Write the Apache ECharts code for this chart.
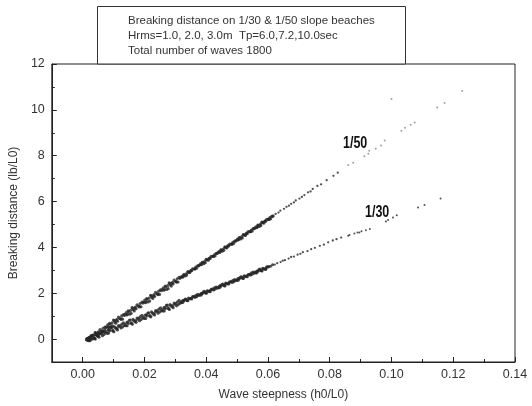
<!DOCTYPE html>
<html>
<head>
<meta charset="utf-8">
<script src="https://cdn.jsdelivr.net/npm/echarts@6/dist/echarts.min.js"></script>
<style>
  html, body { margin: 0; padding: 0; background: #fff; }
  #chart { width: 532px; height: 406px; }
</style>
</head>
<body>
<div id="chart"></div>
<script>
// Wave steepness h0/L0 and breaking distance lb/L0, 1/50 slope beach
const steep50 = [
  0.0012, 0.0015, 0.0016, 0.0018,
  0.0021, 0.0025, 0.0029, 0.0037, 0.0040, 0.0044, 0.0051, 0.0053, 0.0060, 0.0066, 0.0069, 0.0077,
  0.0081, 0.0085, 0.0089, 0.0097, 0.0100, 0.0104, 0.0111, 0.0113, 0.0120, 0.0126, 0.0129, 0.0137,
  0.0141, 0.0145, 0.0149, 0.0157, 0.0160, 0.0164, 0.0171, 0.0173, 0.0180, 0.0186, 0.0189, 0.0197,
  0.0201, 0.0205, 0.0209, 0.0217, 0.0220, 0.0224, 0.0231, 0.0233, 0.0240, 0.0246, 0.0249, 0.0257,
  0.0261, 0.0265, 0.0269, 0.0277, 0.0280, 0.0284, 0.0291, 0.0293, 0.0300, 0.0306, 0.0309, 0.0317,
  0.0321, 0.0325, 0.0329, 0.0337, 0.0340, 0.0344, 0.0351, 0.0353, 0.0360, 0.0366, 0.0369, 0.0377,
  0.0381, 0.0385, 0.0389, 0.0397, 0.0400, 0.0404, 0.0411, 0.0413, 0.0420, 0.0426, 0.0429, 0.0437,
  0.0441, 0.0445, 0.0449, 0.0457, 0.0460, 0.0464, 0.0471, 0.0473, 0.0480, 0.0486, 0.0489, 0.0497,
  0.0501, 0.0505, 0.0509, 0.0517, 0.0520, 0.0524, 0.0531, 0.0533, 0.0540, 0.0546, 0.0549, 0.0557,
  0.0561, 0.0565, 0.0569, 0.0577, 0.0580, 0.0584, 0.0591, 0.0593, 0.0600, 0.0606, 0.0609, 0.0617,
  0.0023, 0.0027, 0.0032, 0.0035, 0.0042, 0.0047, 0.0049, 0.0056, 0.0063, 0.0064, 0.0072, 0.0075,
  0.0083, 0.0087, 0.0092, 0.0095, 0.0102, 0.0107, 0.0109, 0.0116, 0.0123, 0.0124, 0.0132, 0.0135,
  0.0143, 0.0147, 0.0152, 0.0155, 0.0162, 0.0167, 0.0169, 0.0176, 0.0183, 0.0184, 0.0192, 0.0195,
  0.0203, 0.0207, 0.0212, 0.0215, 0.0222, 0.0227, 0.0229, 0.0236, 0.0243, 0.0244, 0.0252, 0.0255,
  0.0263, 0.0267, 0.0272, 0.0275, 0.0282, 0.0287, 0.0289, 0.0296, 0.0303, 0.0304, 0.0312, 0.0315,
  0.0323, 0.0327, 0.0332, 0.0335, 0.0342, 0.0347, 0.0349, 0.0356, 0.0363, 0.0364, 0.0372, 0.0375,
  0.0383, 0.0387, 0.0392, 0.0395, 0.0402, 0.0407, 0.0409, 0.0416, 0.0423, 0.0424, 0.0432, 0.0435,
  0.0443, 0.0447, 0.0452, 0.0455, 0.0462, 0.0467, 0.0469, 0.0476, 0.0483, 0.0484, 0.0492, 0.0495,
  0.0503, 0.0507, 0.0512, 0.0515, 0.0522, 0.0527, 0.0529, 0.0536, 0.0543, 0.0544, 0.0552, 0.0555,
  0.0563, 0.0567, 0.0572, 0.0575, 0.0582, 0.0587, 0.0589, 0.0596, 0.0603, 0.0604, 0.0612, 0.0615,
  0.0625, 0.0634, 0.0640, 0.0652, 0.0660, 0.0668, 0.0675, 0.0684, 0.0690, 0.0702, 0.0710, 0.0718,
  0.0730, 0.0738, 0.0745, 0.0760, 0.0772, 0.0790, 0.0812, 0.0826, 0.0860, 0.0876, 0.0912, 0.0925,
  0.0928, 0.0949, 0.0966, 0.0978, 0.1000, 0.1032, 0.1044, 0.1062, 0.1075, 0.1148, 0.1172, 0.1229
];
const dist50 = [
  -0.03, 0.02, -0.06, 0.05,
  0.08, -0.01, 0.11, 0.04, 0.29, 0.20, 0.32, 0.24, 0.36, 0.47, 0.33, 0.54,
  0.62, 0.54, 0.65, 0.58, 0.83, 0.74, 0.86, 0.78, 0.90, 1.01, 0.87, 1.08,
  1.16, 1.08, 1.19, 1.12, 1.37, 1.28, 1.40, 1.32, 1.44, 1.55, 1.41, 1.62,
  1.70, 1.62, 1.73, 1.66, 1.91, 1.82, 1.94, 1.86, 1.98, 2.09, 1.95, 2.16,
  2.24, 2.16, 2.27, 2.20, 2.45, 2.36, 2.48, 2.40, 2.52, 2.63, 2.49, 2.70,
  2.74, 2.72, 2.80, 2.79, 2.94, 2.91, 3.00, 2.98, 3.06, 3.14, 3.09, 3.22,
  3.28, 3.26, 3.34, 3.33, 3.48, 3.45, 3.54, 3.52, 3.60, 3.68, 3.63, 3.76,
  3.82, 3.80, 3.88, 3.87, 4.02, 3.99, 4.08, 4.06, 4.14, 4.22, 4.17, 4.30,
  4.36, 4.34, 4.42, 4.41, 4.56, 4.53, 4.62, 4.60, 4.68, 4.76, 4.71, 4.84,
  4.90, 4.88, 4.96, 4.95, 5.10, 5.07, 5.16, 5.14, 5.22, 5.30, 5.25, 5.38,
  -0.03, 0.15, 0.00, 0.17, 0.27, 0.15, 0.27, 0.42, 0.35, 0.32, 0.53, 0.49,
  0.51, 0.69, 0.54, 0.71, 0.81, 0.69, 0.81, 0.96, 0.89, 0.86, 1.07, 1.03,
  1.05, 1.23, 1.08, 1.25, 1.35, 1.23, 1.35, 1.50, 1.43, 1.40, 1.61, 1.57,
  1.59, 1.77, 1.62, 1.79, 1.89, 1.77, 1.89, 2.04, 1.97, 1.94, 2.15, 2.11,
  2.13, 2.31, 2.16, 2.33, 2.43, 2.31, 2.43, 2.58, 2.51, 2.48, 2.69, 2.65,
  2.70, 2.81, 2.75, 2.85, 2.93, 2.90, 2.97, 3.07, 3.07, 3.06, 3.20, 3.19,
  3.24, 3.35, 3.29, 3.39, 3.47, 3.44, 3.51, 3.61, 3.61, 3.60, 3.74, 3.73,
  3.78, 3.89, 3.83, 3.93, 4.01, 3.98, 4.05, 4.15, 4.15, 4.14, 4.28, 4.27,
  4.32, 4.43, 4.37, 4.47, 4.55, 4.52, 4.59, 4.69, 4.69, 4.68, 4.82, 4.81,
  4.86, 4.97, 4.91, 5.01, 5.09, 5.06, 5.13, 5.23, 5.23, 5.22, 5.36, 5.35,
  5.46, 5.52, 5.60, 5.68, 5.77, 5.82, 5.90, 5.96, 6.05, 6.13, 6.20, 6.28,
  6.40, 6.44, 6.55, 6.68, 6.75, 6.93, 7.12, 7.26, 7.59, 7.69, 7.98, 8.08,
  8.22, 8.30, 8.44, 8.66, 10.47, 9.09, 9.22, 9.35, 9.45, 10.10, 10.30, 10.82
];

// Same quantities on the 1/30 slope beach
const steep30 = [
  0.0013, 0.0017,
  0.0020, 0.0026, 0.0028, 0.0034, 0.0041, 0.0045, 0.0049, 0.0056, 0.0059, 0.0064, 0.0072, 0.0074,
  0.0080, 0.0086, 0.0088, 0.0094, 0.0101, 0.0105, 0.0109, 0.0116, 0.0119, 0.0124, 0.0132, 0.0134,
  0.0140, 0.0146, 0.0148, 0.0154, 0.0161, 0.0165, 0.0169, 0.0176, 0.0179, 0.0184, 0.0192, 0.0194,
  0.0200, 0.0206, 0.0208, 0.0214, 0.0221, 0.0225, 0.0229, 0.0236, 0.0239, 0.0244, 0.0252, 0.0254,
  0.0260, 0.0266, 0.0268, 0.0274, 0.0281, 0.0285, 0.0289, 0.0296, 0.0299, 0.0304, 0.0312, 0.0314,
  0.0320, 0.0326, 0.0328, 0.0334, 0.0341, 0.0345, 0.0349, 0.0356, 0.0359, 0.0364, 0.0372, 0.0374,
  0.0380, 0.0386, 0.0388, 0.0394, 0.0401, 0.0405, 0.0409, 0.0416, 0.0419, 0.0424, 0.0432, 0.0434,
  0.0440, 0.0446, 0.0448, 0.0454, 0.0461, 0.0465, 0.0469, 0.0476, 0.0479, 0.0484, 0.0492, 0.0494,
  0.0500, 0.0506, 0.0508, 0.0514, 0.0521, 0.0525, 0.0529, 0.0536, 0.0539, 0.0544, 0.0552, 0.0554,
  0.0560, 0.0566, 0.0568, 0.0574, 0.0581, 0.0585, 0.0589, 0.0596, 0.0599,
  0.0023, 0.0024, 0.0031, 0.0037, 0.0038, 0.0043, 0.0052, 0.0053, 0.0062, 0.0067, 0.0069, 0.0077,
  0.0083, 0.0084, 0.0091, 0.0097, 0.0098, 0.0103, 0.0112, 0.0113, 0.0122, 0.0127, 0.0129, 0.0137,
  0.0143, 0.0144, 0.0151, 0.0157, 0.0158, 0.0163, 0.0172, 0.0173, 0.0182, 0.0187, 0.0189, 0.0197,
  0.0203, 0.0204, 0.0211, 0.0217, 0.0218, 0.0223, 0.0232, 0.0233, 0.0242, 0.0247, 0.0249, 0.0257,
  0.0263, 0.0264, 0.0271, 0.0277, 0.0278, 0.0283, 0.0292, 0.0293, 0.0302, 0.0307, 0.0309, 0.0317,
  0.0323, 0.0324, 0.0331, 0.0337, 0.0338, 0.0343, 0.0352, 0.0353, 0.0362, 0.0367, 0.0369, 0.0377,
  0.0383, 0.0384, 0.0391, 0.0397, 0.0398, 0.0403, 0.0412, 0.0413, 0.0422, 0.0427, 0.0429, 0.0437,
  0.0443, 0.0444, 0.0451, 0.0457, 0.0458, 0.0463, 0.0472, 0.0473, 0.0482, 0.0487, 0.0489, 0.0497,
  0.0503, 0.0504, 0.0511, 0.0517, 0.0518, 0.0523, 0.0532, 0.0533, 0.0542, 0.0547, 0.0549, 0.0557,
  0.0563, 0.0564, 0.0571, 0.0577, 0.0578, 0.0583, 0.0592, 0.0593, 0.0602,
  0.0608, 0.0615, 0.0622, 0.0630, 0.0641, 0.0648, 0.0655, 0.0667, 0.0675, 0.0684, 0.0696, 0.0705,
  0.0713, 0.0728, 0.0740, 0.0752, 0.0768, 0.0781, 0.0795, 0.0810, 0.0822, 0.0837, 0.0860, 0.0864,
  0.0880, 0.0890, 0.0896, 0.0903, 0.0917, 0.0930, 0.0982, 0.0989, 0.1005, 0.1017, 0.1086, 0.1107,
  0.1159
];
const dist30 = [
  0.01, -0.04,
  -0.07, 0.09, 0.03, 0.18, 0.00, 0.17, 0.11, 0.27, 0.23, 0.15, 0.39, 0.26,
  0.25, 0.41, 0.36, 0.51, 0.32, 0.49, 0.44, 0.59, 0.55, 0.48, 0.71, 0.58,
  0.58, 0.74, 0.68, 0.83, 0.65, 0.81, 0.76, 0.92, 0.87, 0.80, 1.04, 0.91,
  0.90, 1.06, 1.01, 1.15, 0.97, 1.14, 1.08, 1.24, 1.20, 1.13, 1.36, 1.23,
  1.23, 1.38, 1.33, 1.48, 1.29, 1.46, 1.41, 1.57, 1.52, 1.45, 1.69, 1.55,
  1.59, 1.68, 1.66, 1.75, 1.67, 1.77, 1.76, 1.85, 1.84, 1.82, 1.95, 1.90,
  1.91, 2.00, 1.99, 2.08, 2.00, 2.09, 2.08, 2.17, 2.17, 2.14, 2.27, 2.22,
  2.23, 2.33, 2.31, 2.40, 2.32, 2.42, 2.41, 2.50, 2.49, 2.47, 2.60, 2.55,
  2.56, 2.65, 2.64, 2.72, 2.65, 2.74, 2.73, 2.82, 2.81, 2.79, 2.92, 2.87,
  2.88, 2.97, 2.96, 3.05, 2.97, 3.07, 3.05, 3.15, 3.14,
  0.08, -0.07, 0.17, 0.06, 0.03, 0.21, 0.16, 0.08, 0.27, 0.33, 0.20, 0.32,
  0.40, 0.26, 0.49, 0.39, 0.35, 0.54, 0.49, 0.40, 0.59, 0.66, 0.53, 0.64,
  0.72, 0.58, 0.82, 0.71, 0.68, 0.86, 0.81, 0.73, 0.92, 0.98, 0.85, 0.97,
  1.05, 0.90, 1.14, 1.03, 1.00, 1.19, 1.14, 1.05, 1.24, 1.31, 1.18, 1.29,
  1.37, 1.23, 1.47, 1.36, 1.32, 1.51, 1.46, 1.37, 1.56, 1.63, 1.50, 1.61,
  1.67, 1.60, 1.73, 1.70, 1.68, 1.79, 1.79, 1.75, 1.87, 1.91, 1.85, 1.93,
  1.99, 1.92, 2.06, 2.02, 2.01, 2.11, 2.11, 2.07, 2.19, 2.24, 2.18, 2.26,
  2.31, 2.25, 2.38, 2.35, 2.33, 2.44, 2.44, 2.40, 2.52, 2.56, 2.50, 2.58,
  2.64, 2.57, 2.71, 2.67, 2.65, 2.76, 2.76, 2.72, 2.84, 2.89, 2.83, 2.91,
  2.96, 2.89, 3.03, 2.99, 2.98, 3.09, 3.08, 3.04, 3.16,
  3.18, 3.24, 3.25, 3.31, 3.36, 3.42, 3.44, 3.51, 3.58, 3.60, 3.68, 3.72,
  3.79, 3.84, 3.92, 3.98, 4.07, 4.12, 4.22, 4.30, 4.36, 4.43, 4.51, 4.54,
  4.61, 4.65, 4.65, 4.70, 4.75, 4.80, 5.13, 5.20, 5.30, 5.40, 5.74, 5.85,
  6.13
];

// Axis ticks: labelled (major) and unlabelled (minor)
const xMajorTicks = [0.00, 0.02, 0.04, 0.06, 0.08, 0.10, 0.12, 0.14];
const xMinorTicks = [0.01, 0.03, 0.05, 0.07, 0.09, 0.11, 0.13];
const yMajorTicks = [0, 2, 4, 6, 8, 10, 12];
const yMinorTicks = [-1, 1, 3, 5, 7, 9, 11];

const titleLines = [
  'Breaking distance on 1/30 & 1/50 slope beaches',
  'Hrms=1.0, 2.0, 3.0m  Tp=6.0,7.2,10.0sec',
  'Total number of waves 1800'
];

const pairs = (xs, ys) => xs.map((x, i) => [x, ys[i]]);

const FONT = '"Liberation Sans", Arial, sans-serif';
const INK = '#333';

// Crowded low-steepness points overlap into a solid band;
// the scattered high-steepness points stay fine dots.
const dotSize = v => (v[0] < 0.062 ? 3.1 : v[0] < 0.085 ? 2.3 : 2);

const chart = echarts.init(document.getElementById('chart'), null, { renderer: 'canvas' });

const tickLabel = { fontFamily: FONT, fontSize: 12.5, color: INK };

chart.setOption({
  animation: false,
  backgroundColor: '#fff',
  grid: {
    left: 49, right: 17, top: 64, bottom: 42,
    show: true, borderColor: '#222', borderWidth: 1, backgroundColor: 'transparent'
  },
  xAxis: [
    {
      type: 'value', min: -0.01, max: 0.14, interval: 0.01,
      name: 'Wave steepness (h0/L0)', nameLocation: 'middle', nameGap: 27,
      nameTextStyle: { fontFamily: FONT, fontSize: 12, color: INK },
      axisLine: { show: true, onZero: false, lineStyle: { color: '#222', width: 1 } },
      axisTick: { show: true, inside: true, length: 5, customValues: xMajorTicks, lineStyle: { color: '#222' } },
      axisLabel: Object.assign({ customValues: xMajorTicks, margin: 6, formatter: v => v.toFixed(2) }, tickLabel),
      splitLine: { show: false }
    },
    {
      type: 'value', min: -0.01, max: 0.14, interval: 0.01, position: 'bottom',
      axisLine: { show: false, onZero: false },
      axisTick: { show: true, inside: true, length: 3, customValues: xMinorTicks, lineStyle: { color: '#222' } },
      axisLabel: { show: false },
      splitLine: { show: false }
    }
  ],
  yAxis: [
    {
      type: 'value', min: -1, max: 12, interval: 1,
      name: 'Breaking distance (lb/L0)', nameLocation: 'middle', nameGap: 26, nameRotate: 90,
      nameTextStyle: { fontFamily: FONT, fontSize: 12, color: INK },
      axisLine: { show: true, onZero: false, lineStyle: { color: '#222', width: 1 } },
      axisTick: { show: true, inside: true, length: 5, customValues: yMajorTicks, lineStyle: { color: '#222' } },
      axisLabel: Object.assign({ customValues: yMajorTicks, margin: 7 }, tickLabel),
      splitLine: { show: false }
    },
    {
      type: 'value', min: -1, max: 12, interval: 1, position: 'left',
      axisLine: { show: false, onZero: false },
      axisTick: { show: true, inside: true, length: 3, customValues: yMinorTicks, lineStyle: { color: '#222' } },
      axisLabel: { show: false },
      splitLine: { show: false }
    }
  ],
  series: [
    {
      name: '1/50', type: 'scatter', xAxisIndex: 0, yAxisIndex: 0,
      data: pairs(steep50, dist50),
      symbol: 'circle', symbolSize: dotSize,
      itemStyle: { color: p => (p.value[0] > 0.085 ? '#8a8a8a' : '#262626') },
      silent: true
    },
    {
      name: '1/30', type: 'scatter', xAxisIndex: 0, yAxisIndex: 0,
      data: pairs(steep30, dist30),
      symbol: 'circle', symbolSize: dotSize,
      itemStyle: { color: '#262626' },
      silent: true
    }
  ],
  graphic: [
    {
      type: 'rect', z: 10,
      shape: { x: 97.5, y: 6.5, width: 308, height: 57.5 },
      style: { fill: '#fff', stroke: '#333', lineWidth: 1 }
    },
    ...titleLines.map((t, i) => ({
      type: 'text', z: 11, x: 128, y: 21 + i * 15,
      style: { text: t, font: '11.5px ' + FONT, fill: INK, verticalAlign: 'middle', align: 'left' }
    })),
    {
      type: 'text', z: 11, x: 343, y: 144, scaleX: 0.78,
      style: { text: '1/50', font: 'bold 16px ' + FONT, fill: '#111', verticalAlign: 'middle', align: 'left' }
    },
    {
      type: 'text', z: 11, x: 365, y: 213, scaleX: 0.78,
      style: { text: '1/30', font: 'bold 16px ' + FONT, fill: '#111', verticalAlign: 'middle', align: 'left' }
    }
  ]
});
</script>
</body>
</html>
